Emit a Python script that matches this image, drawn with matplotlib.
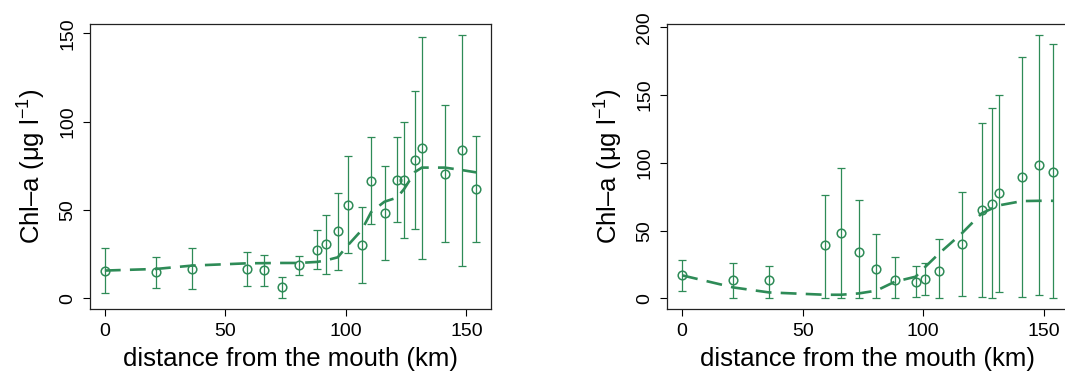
import matplotlib
matplotlib.use("Agg")
import matplotlib.pyplot as plt

plt.rcParams["font.family"] = ["Liberation Sans", "DejaVu Sans"]
plt.rcParams["mathtext.fontset"] = "custom"
plt.rcParams["mathtext.rm"] = "Liberation Sans"
plt.rcParams["mathtext.it"] = "Liberation Sans:italic"

GREEN = "#2e8b57"

# left panel
dist_a = [0, 21.2, 36.1, 59.0, 65.9, 73.3, 80.5, 88.1, 91.8, 96.6, 100.8,
          106.6, 110.5, 116.0, 121.2, 124.2, 128.6, 131.5, 141.0, 148.1, 154.0]
chl_a = [15.7, 14.7, 16.8, 16.8, 16.0, 6.4, 18.7, 27.4, 30.6, 37.9, 53.0,
         30.2, 66.6, 48.5, 67.2, 67.0, 78.3, 85.3, 70.6, 84.0, 61.9]
hi_a = [28.3, 23.6, 28.3, 26.0, 24.7, 12.3, 24.2, 38.5, 47.4, 59.8, 80.4,
        51.7, 91.5, 75.1, 91.5, 99.8, 117.5, 148.1, 109.2, 149.2, 92.1]
lo_a = [3.2, 5.7, 5.5, 7.2, 7.2, 0.4, 13.2, 16.4, 13.8, 15.8, 25.8,
        8.7, 41.9, 21.9, 43.2, 34.0, 39.2, 22.3, 31.7, 18.5, 31.7]
fit_a = [15.7, 16.6, 18.5, 19.8, 19.9, 20.0, 20.0, 20.6, 21.5, 23.2, 30.0,
         38.7, 48.9, 54.7, 57.0, 62.0, 71.5, 74.0, 74.0, 72.6, 71.3]

# right panel
dist_b = [0, 21.2, 36.1, 59.2, 65.9, 73.3, 80.5, 88.2, 96.8, 100.9, 106.6,
          116.0, 124.2, 128.6, 131.3, 141.0, 148.1, 154.0]
chl_b = [17.0, 13.3, 13.3, 39.6, 48.2, 34.2, 21.4, 13.3, 12.3, 14.3, 19.9,
         40.1, 65.2, 69.4, 77.5, 89.8, 98.4, 93.0]
hi_b = [28.5, 25.8, 24.1, 76.0, 96.2, 72.8, 47.7, 30.8, 24.1, 25.8, 43.5,
        78.7, 129.4, 140.5, 150.3, 178.1, 194.6, 187.7]
lo_b = [5.4, 0, 0, 0, 0, 0, 0, 0, 0.7, 2.7, 0,
        1.5, 1.2, 0, 4.4, 1.2, 2.2, 0]
fit_b = [17.0, 8.1, 4.4, 2.7, 2.7, 3.7, 5.7, 12.3, 16.0, 23.4, 33.2,
         48.0, 62.7, 66.4, 68.6, 71.8, 72.0, 72.0]

panels = [
    (dist_a, chl_a, hi_a, lo_a, fit_a, [0, 50, 100, 150], (-6.06, 155.3)),
    (dist_b, chl_b, hi_b, lo_b, fit_b, [0, 50, 100, 150, 200], (-7.8, 202.4)),
]

fig = plt.figure(figsize=(10.65, 3.72), dpi=100)
rects = [[0.0845, 0.1694, 0.3765, 0.766], [0.6266, 0.1694, 0.3765, 0.766]]

for rect, (x, y, hi, lo, fit, yt, ylim) in zip(rects, panels):
    ax = fig.add_axes(rect)
    err = [[v - l for v, l in zip(y, lo)], [h - v for v, h in zip(y, hi)]]
    ax.errorbar(x, y, yerr=err, fmt="none", ecolor=GREEN, elinewidth=0.9,
                capsize=2.9, capthick=0.9)
    ax.plot(x, y, "o", mfc="none", mec=GREEN, ms=6.2, mew=1.1)
    ax.plot(x, fit, color=GREEN, lw=1.9, linestyle=(0, (6, 3.5)))
    ax.set_xlim(-6.16, 160.16)
    ax.set_ylim(*ylim)
    ax.set_xticks([0, 50, 100, 150])
    ax.set_yticks(yt)
    ax.set_yticklabels([str(v) for v in yt], rotation=90, va="center")
    ax.tick_params(direction="out", length=5, width=0.8, labelsize=14, pad=5)
    for s in ax.spines.values():
        s.set_linewidth(0.9)
        s.set_color("#222222")
    ax.set_xlabel("distance from the mouth (km)", fontsize=18.5, labelpad=5)
    ax.set_ylabel("Chl\u2013a (\u03bcg l$^{-1}$)", fontsize=18.5, labelpad=8)

fig.savefig("out.png", dpi=100)
